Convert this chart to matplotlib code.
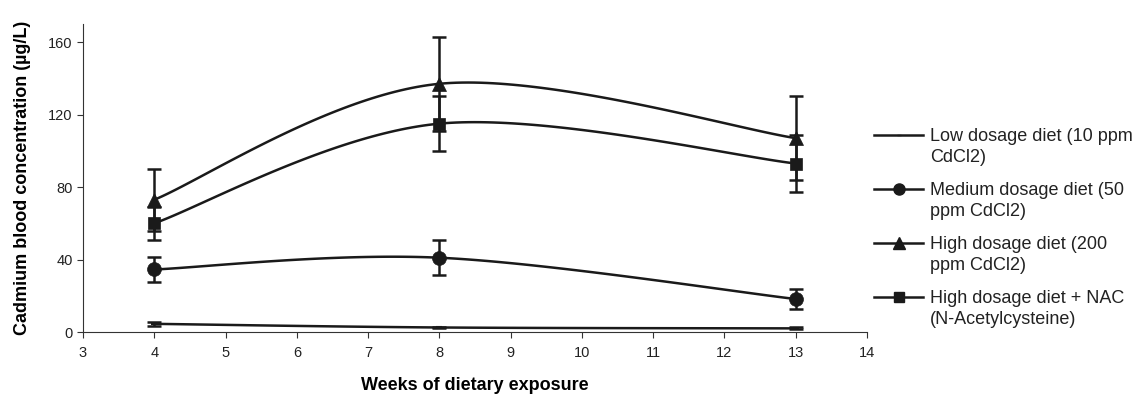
import numpy as np
import matplotlib
matplotlib.use("Agg")
import matplotlib.pyplot as plt
from matplotlib.lines import Line2D

plt.rcParams['font.family'] = ['Liberation Sans', 'DejaVu Sans']

weeks = [4, 8, 13]
series_names = ["Low dosage diet (10 ppm\nCdCl2)",
                "Medium dosage diet (50\nppm CdCl2)",
                "High dosage diet (200\nppm CdCl2)",
                "High dosage diet + NAC\n(N-Acetylcysteine)"]
low_vals = [4.5, 2.5, 2.0]
low_err = [1.2, 0.5, 0.5]
med_vals = [34.5, 41.0, 18.2]
med_err = [7.0, 9.7, 5.3]
high_vals = [73.0, 137.0, 107.0]
high_err = [17.0, 26.0, 23.0]
nac_vals = [60.0, 115.0, 93.0]
nac_err = [9.0, 15.0, 16.0]
markers = ['_', 'o', '^', 's']
msizes = [4, 10, 10, 9]

W, H = 1147, 403
fig = plt.figure(figsize=(W / 100, H / 100), dpi=100)
ax = fig.add_axes([83/W, 1-332/H, (867-83)/W, (332-24)/H])
ax.set_xlim(3, 14)
ax.set_ylim(0, 170)


def smooth(xs, ys, n=60):
    pts = ax.transData.transform(np.column_stack([xs, ys]))
    P = np.vstack([pts[0], pts, pts[-1]])
    out = []
    for i in range(1, len(P) - 2):
        p0, p1, p2, p3 = P[i - 1], P[i], P[i + 1], P[i + 2]
        b1 = p1 + (p2 - p0) / 6.0
        b2 = p2 - (p3 - p1) / 6.0
        t = np.linspace(0, 1, n)[:, None]
        seg = (1 - t) ** 3 * p1 + 3 * (1 - t) ** 2 * t * b1 + 3 * (1 - t) * t ** 2 * b2 + t ** 3 * p2
        out.append(seg)
    out = np.vstack(out)
    d = ax.transData.inverted().transform(out)
    return d[:, 0], d[:, 1]


all_vals = [low_vals, med_vals, high_vals, nac_vals]
all_errs = [low_err, med_err, high_err, nac_err]
for vals, errs, mk, ms in zip(all_vals, all_errs, markers, msizes):
    sx, sy = smooth(weeks, vals)
    ax.plot(sx, sy, color='#1a1a1a', lw=1.8, zorder=2)
    ax.errorbar(weeks, vals, yerr=errs, fmt='none', ecolor='#1a1a1a',
                elinewidth=1.8, capsize=5, capthick=1.8, zorder=3)
    ax.plot(weeks, vals, linestyle='none', marker=mk, markersize=ms,
            color='#1a1a1a', markeredgewidth=1.5 if mk == '_' else 0.5, zorder=4)

# legend drawn manually: handle aligned with the first line of each label
for i, (name, mk, ms) in enumerate(zip(series_names, markers, msizes)):
    yc = 1 - (135 + 54 * i) / H
    fig.add_artist(Line2D([874/W, 923/W], [yc, yc], color='#1a1a1a', lw=1.8,
                          transform=fig.transFigure))
    fig.add_artist(Line2D([898.5/W], [yc], color='#1a1a1a', marker=mk,
                          markersize=(ms - 2) if mk != '_' else 3,
                          markeredgewidth=1.0, linestyle='none',
                          transform=fig.transFigure))
    fig.text(930/W, yc + 7/H, name, fontsize=13, color='#222222',
             ha='left', va='top', linespacing=1.32)

ax.spines['top'].set_visible(False)
ax.spines['right'].set_visible(False)
ax.spines['left'].set_color('#333333')
ax.spines['bottom'].set_color('#333333')
ax.set_xticks(range(3, 15))
ax.set_yticks([0, 40, 80, 120, 160])
ax.tick_params(axis='both', direction='out', length=4, color='#333333',
               labelsize=10.5, labelcolor='#222222')
ax.tick_params(axis='x', pad=6)
ax.set_xlabel("Weeks of dietary exposure", fontsize=13, fontweight='bold', labelpad=12)
ax.set_ylabel("Cadmium blood concentration (µg/L)", fontsize=13, fontweight='bold', labelpad=12)

fig.savefig("out.png", dpi=100)
